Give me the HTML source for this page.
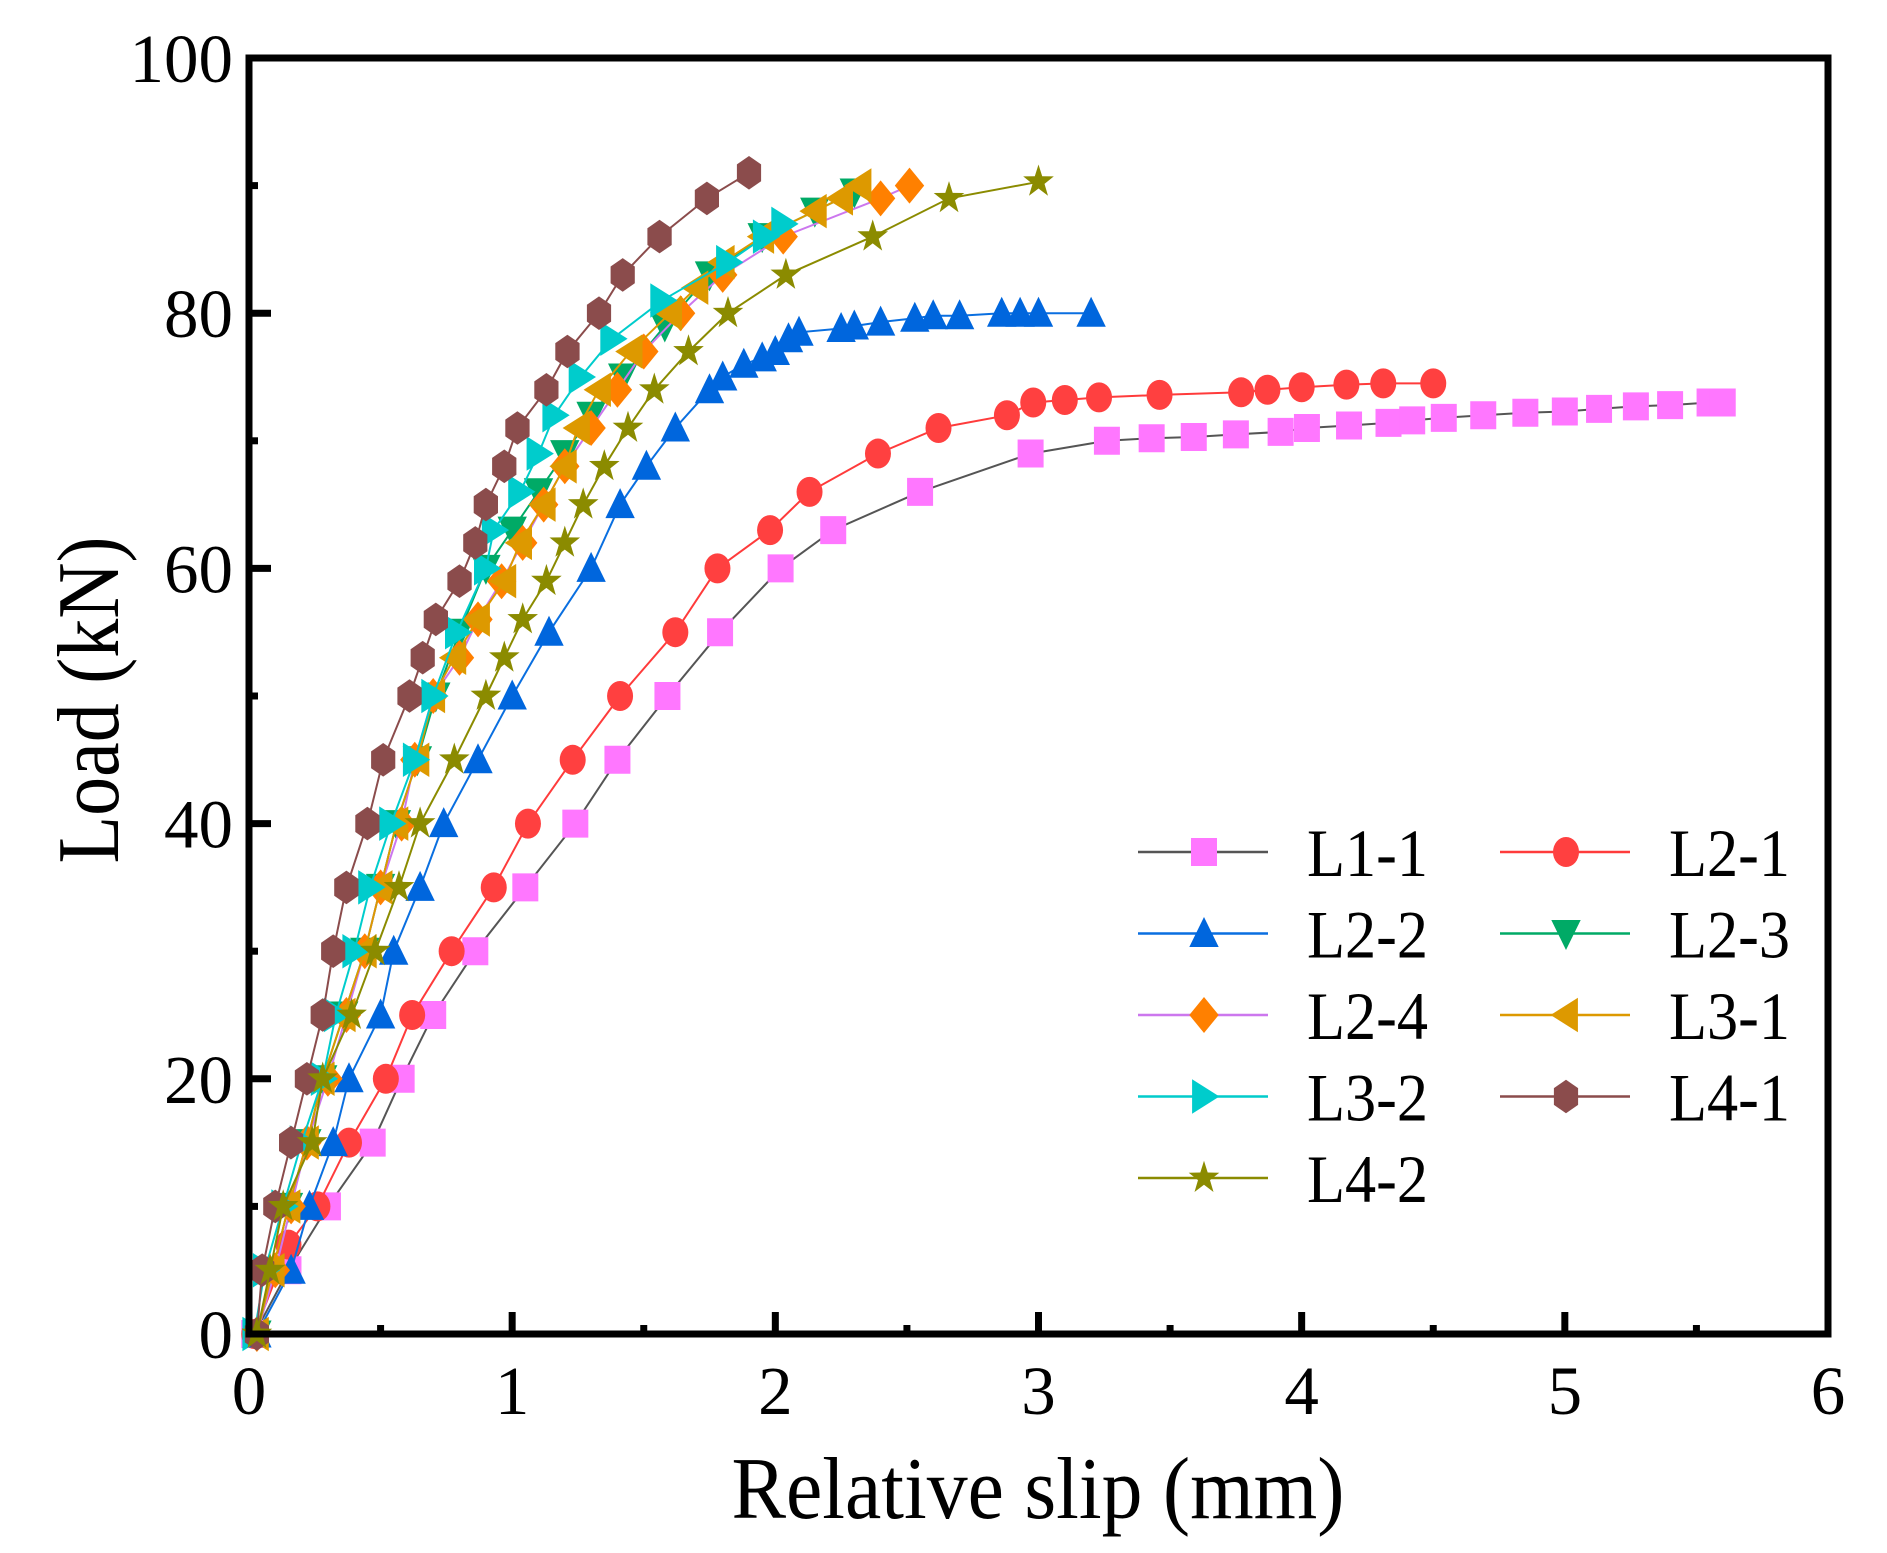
<!DOCTYPE html>
<html><head><meta charset="utf-8"><style>
html,body{margin:0;padding:0;background:#fff;}
svg{display:block;font-family:"Liberation Serif",serif;}
</style></head><body>
<svg id="chart" width="1887" height="1553" viewBox="0 0 1887 1553" xmlns="http://www.w3.org/2000/svg">
<g id="series"></g>
<g id="axes"></g>
<g id="legend"></g>
</svg>
<script>
const seriesNames = ["L1-1","L2-1","L2-2","L2-3","L2-4","L3-1","L3-2","L4-1","L4-2"];
const xL11 = [0.02,0.15,0.3,0.47,0.58,0.7,0.86,1.05,1.24,1.4,1.59,1.79,2.02,2.22,2.55,2.97,3.26,3.43,3.59,3.75,3.92,4.02,4.18,4.33,4.42,4.54,4.69,4.85,5.0,5.13,5.27,5.4,5.55,5.6];
const yL11 = [0,5,10,15,20,25,30,35,40,45,50,55,60,63,66,69,70,70.2,70.3,70.5,70.7,71,71.2,71.4,71.6,71.8,72,72.2,72.3,72.5,72.7,72.8,73,73];
const xL21 = [0.02,0.15,0.26,0.38,0.52,0.62,0.77,0.93,1.06,1.23,1.41,1.62,1.78,1.98,2.13,2.39,2.62,2.88,2.98,3.1,3.23,3.46,3.77,3.87,4.0,4.17,4.31,4.5];
const yL21 = [0,7,10,15,20,25,30,35,40,45,50,55,60,63,66,69,71,72,73,73.2,73.4,73.6,73.8,74,74.2,74.4,74.5,74.5];
const xL22 = [0.03,0.16,0.23,0.32,0.38,0.5,0.55,0.65,0.74,0.87,1.0,1.14,1.3,1.41,1.51,1.62,1.75,1.8,1.88,1.95,2.0,2.05,2.09,2.25,2.3,2.4,2.53,2.6,2.7,2.86,2.93,3.0,3.2];
const yL22 = [0,5,10,15,20,25,30,35,40,45,50,55,60,65,68,71,74,75,76,76.5,77,78,78.5,78.8,79,79.3,79.6,79.8,79.8,80,80,80,80];
const xL23 = [0.03,0.09,0.15,0.22,0.28,0.36,0.44,0.5,0.56,0.64,0.71,0.8,0.9,1.0,1.1,1.2,1.3,1.42,1.58,1.75,1.95,2.15,2.3];
const yL23 = [0,5,10,15,20,25,30,35,40,45,50,55,60,63,66,69,72,75,79,83,86,88,89.5];
const xL24 = [0.03,0.1,0.16,0.22,0.3,0.37,0.44,0.5,0.58,0.63,0.7,0.8,0.87,0.96,1.04,1.12,1.2,1.3,1.4,1.5,1.64,1.8,2.03,2.4,2.51];
const yL24 = [0,5,10,15,20,25,30,35,40,45,50,53,56,59,62,65,68,71,74,77,80,83,86,89,90];
const xL31 = [0.03,0.09,0.15,0.22,0.28,0.36,0.44,0.5,0.56,0.64,0.7,0.78,0.87,0.97,1.03,1.12,1.2,1.25,1.33,1.45,1.6,1.7,1.8,1.95,2.15,2.25,2.32];
const yL31 = [0,5,10,15,20,25,30,35,40,45,50,53,56,59,62,65,68,71,74,77,80,82,84,86,88,89,90];
const xL32 = [0.02,0.06,0.13,0.2,0.28,0.33,0.4,0.46,0.54,0.63,0.7,0.79,0.9,0.93,1.03,1.1,1.16,1.26,1.38,1.57,1.82,1.96,2.03];
const yL32 = [0,5,10,15,20,25,30,35,40,45,50,55,60,63,66,69,72,75,78,81,84,86,87];
const xL41 = [0.03,0.05,0.1,0.16,0.22,0.28,0.32,0.37,0.45,0.51,0.61,0.66,0.71,0.8,0.86,0.9,0.97,1.02,1.13,1.21,1.33,1.42,1.56,1.74,1.9];
const yL41 = [0,5,10,15,20,25,30,35,40,45,50,53,56,59,62,65,68,71,74,77,80,83,86,89,91];
const xL42 = [0.03,0.08,0.13,0.24,0.28,0.39,0.48,0.57,0.65,0.78,0.9,0.97,1.04,1.13,1.2,1.27,1.35,1.44,1.54,1.67,1.82,2.04,2.37,2.66,3.0];
const yL42 = [0,5,10,15,20,25,30,35,40,45,50,53,56,59,62,65,68,71,74,77,80,83,86,89,90.3];
const xTicks = [0,1,2,3,4,5,6];
const yTicks = [0,20,40,60,80,100];

const NS = "http://www.w3.org/2000/svg";
const X0=249, X1=1828, Y0=1334, Y1=58;
const sx = v => X0 + (X1-X0)*v/6;
const sy = v => Y0 - (Y0-Y1)*v/100;
function mk(tag, attrs, parent){const e=document.createElementNS(NS,tag);for(const k in attrs)e.setAttribute(k,attrs[k]);parent.appendChild(e);return e;}

const styles = [
 {line:"#555555",fill:"#ff77ff",shape:"square"},
 {line:"#ff3b3b",fill:"#ff4040",shape:"circle"},
 {line:"#0a6fe0",fill:"#0066dd",shape:"up"},
 {line:"#00aa66",fill:"#00aa66",shape:"down"},
 {line:"#cc77ee",fill:"#ff8000",shape:"diamond"},
 {line:"#dd9900",fill:"#dd9900",shape:"left"},
 {line:"#00cccc",fill:"#00cccc",shape:"right"},
 {line:"#8b4c4c",fill:"#8b4c4c",shape:"hex"},
 {line:"#8b8b00",fill:"#8b8b00",shape:"star"}
];
const xs=[xL11,xL21,xL22,xL23,xL24,xL31,xL32,xL41,xL42];
const ys=[yL11,yL21,yL22,yL23,yL24,yL31,yL32,yL41,yL42];
const drawOrder=[3,0,1,2,4,5,6,7,8];

function shapePath(s,cx,cy){
  const rx=14, ry=15;
  let pts;
  switch(s){
    case "square": return `M${cx-13},${cy-14}h26v28h-26z`;
    case "up": pts=[[0,-1.1],[1.05,0.9],[-1.05,0.9]];break;
    case "down": pts=[[0,1.1],[1.05,-0.9],[-1.05,-0.9]];break;
    case "left": pts=[[-1.1,0],[0.85,-1.15],[0.85,1.15]];break;
    case "right": pts=[[1.1,0],[-0.85,-1.15],[-0.85,1.15]];break;
    case "diamond": pts=[[0,-1.2],[1.05,0],[0,1.2],[-1.05,0]];break;
    case "hex": pts=[];for(let i=0;i<6;i++){const a=i*Math.PI/3;pts.push([Math.sin(a)*1.0,-Math.cos(a)*1.12]);}break;
    case "star": pts=[];for(let i=0;i<10;i++){const a=-Math.PI/2+i*Math.PI/5;const r=i%2?0.45:1.15;pts.push([Math.cos(a)*r,Math.sin(a)*r]);}break;
    case "circle": return null;
  }
  return "M"+pts.map(p=>(cx+p[0]*rx).toFixed(1)+","+(cy+p[1]*ry).toFixed(1)).join("L")+"Z";
}
function marker(s,cx,cy,fill,parent,name){
  let e;
  if(s==="circle") e=mk("ellipse",{cx:cx,cy:cy,rx:13,ry:15,fill:fill},parent);
  else e=mk("path",{d:shapePath(s,cx,cy),fill:fill},parent);
  
  
  return e;
}

const gS=document.getElementById("series");
drawOrder.forEach(i=>{
  const nm=seriesNames[i];
  const g=mk("g",{},gS);
  
  
  const d=xs[i].map((v,j)=>(j?"L":"M")+sx(v).toFixed(1)+","+sy(ys[i][j]).toFixed(1)).join("");
  const pl=mk("path",{d:d,fill:"none",stroke:styles[i].line,"stroke-width":2},g);
  
  
  xs[i].forEach((v,j)=>{marker(styles[i].shape,sx(v),sy(ys[i][j]),styles[i].fill,g,'point-'+nm.toLowerCase());});
});

const gA=document.getElementById("axes");
const frame=mk("rect",{x:X0,y:Y1,width:X1-X0,height:Y0-Y1,fill:"none",stroke:"#000","stroke-width":7},gA);


for(let v=0;v<=6;v+=0.5){
  const major=Number.isInteger(v);
  const t=mk("line",{x1:sx(v),x2:sx(v),y1:Y0,y2:Y0-(major?22:9),stroke:"#000","stroke-width":7},gA);
  
  
}
for(let v=0;v<=100;v+=10){
  const major=v%20===0;
  const t=mk("line",{x1:X0,x2:X0+(major?22:9),y1:sy(v),y2:sy(v),stroke:"#000","stroke-width":7},gA);
  
  
}
xTicks.forEach(v=>{
  const t=mk("text",{x:sx(v),y:1414,"font-size":69,"text-anchor":"middle",fill:"#000"},gA);
  t.textContent=v;
  
  
});
yTicks.forEach(v=>{
  const t=mk("text",{x:233,y:sy(v)+24,"font-size":69,"text-anchor":"end",fill:"#000"},gA);
  t.textContent=v;
  
  
});
const xt=mk("text",{x:1038,y:1518,"font-size":88,"text-anchor":"middle",textLength:613,lengthAdjust:"spacingAndGlyphs",fill:"#000"},gA);
xt.textContent="Relative slip (mm)";


const yt=mk("text",{x:0,y:0,"font-size":88,"text-anchor":"middle",textLength:327,lengthAdjust:"spacingAndGlyphs",fill:"#000",transform:"translate(118,700) rotate(-90)"},gA);
yt.textContent="Load (kN)";



const gL=document.getElementById("legend");


seriesNames.forEach((nm,i)=>{
  const col=i%2, row=Math.floor(i/2);
  const lx = col? 1500:1138, cy=852+row*81.5;
  const g=mk("g",{},gL);
  
  
  mk("line",{x1:lx,x2:lx+130,y1:cy,y2:cy,stroke:styles[i].line,"stroke-width":2.5},g);
  marker(styles[i].shape,lx+66,cy,styles[i].fill,g,'legend-marker');
  const t=mk("text",{x:lx+169,y:cy+24,"font-size":68,textLength:121,lengthAdjust:"spacingAndGlyphs",fill:"#000"},g);
  t.textContent=nm;
  
  
});
</script>
</body></html>
